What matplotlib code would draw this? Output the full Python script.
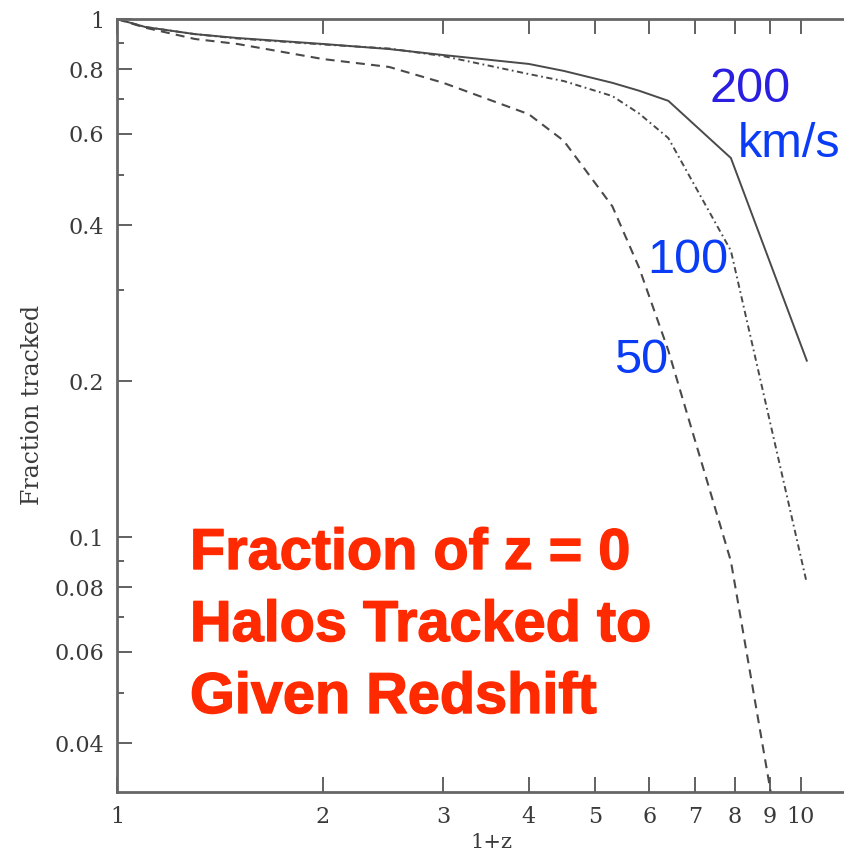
import matplotlib
matplotlib.use("Agg")
import matplotlib.pyplot as plt
import matplotlib.patheffects as pe
from matplotlib.ticker import FixedLocator, FixedFormatter, NullFormatter

# 1+z sample points and tracked fractions for three circular velocities
onePlusZ = [1, 1.1, 1.3, 1.5, 2, 2.5, 3, 4, 4.5, 5.3, 5.8, 6.4, 7.9, 10.2]
frac200 = [1.0, 0.965, 0.935, 0.919, 0.895, 0.875, 0.852, 0.819, 0.794, 0.753, 0.727, 0.695, 0.539, 0.219]
frac100 = [1.0, 0.965, 0.935, 0.917, 0.893, 0.877, 0.848, 0.783, 0.759, 0.710, 0.657, 0.589, 0.357, 0.0815]
frac50 = [1.0, 0.962, 0.915, 0.895, 0.837, 0.808, 0.753, 0.655, 0.582, 0.435, 0.331, 0.229, 0.0898, 0.0127]

xTicks = [1, 2, 3, 4, 5, 6, 7, 8, 9, 10]
xTickLabels = ["1", "2", "3", "4", "5", "6", "7", "8", "9", "10"]
yTicks = [1, 0.8, 0.6, 0.4, 0.2, 0.1, 0.08, 0.06, 0.04]
yTickLabels = ["1", "0.8", "0.6", "0.4", "0.2", "0.1", "0.08", "0.06", "0.04"]
yMinor = [0.9, 0.7, 0.5, 0.3, 0.09, 0.07, 0.05]

titleLines = ["Fraction of z = 0", "Halos Tracked to", "Given Redshift"]

W, H = 845, 851
fig = plt.figure(figsize=(W / 100, H / 100), dpi=100)
ax = fig.add_axes([117 / W, 1 - 792 / H, (W - 117) / W, (792 - 19) / H])

lineCol = "#4a4a4a"
ax.plot(onePlusZ, frac200, color=lineCol, lw=1.4, solid_joinstyle="miter")
ax.plot(onePlusZ, frac100, color=lineCol, lw=1.4, linestyle=(0, (3.2, 1.8, 0.9, 1.8)))
ax.plot(onePlusZ, frac50, color=lineCol, lw=1.5, linestyle=(0, (4.3, 3.0)))

ax.set_xscale("log")
ax.set_yscale("log")
ax.set_xlim(1, 11.6)
ax.set_ylim(0.0322, 1.0)

ax.xaxis.set_major_locator(FixedLocator(xTicks))
ax.xaxis.set_major_formatter(FixedFormatter(xTickLabels))
ax.xaxis.set_minor_locator(FixedLocator([]))
ax.yaxis.set_major_locator(FixedLocator(yTicks))
ax.yaxis.set_major_formatter(FixedFormatter(yTickLabels))
ax.yaxis.set_minor_locator(FixedLocator(yMinor))
ax.yaxis.set_minor_formatter(NullFormatter())

tickCol = "#555555"
ax.tick_params(axis="both", which="major", direction="in", length=11, width=1.3,
               color=tickCol, labelcolor="#3a3a3a", labelsize=16, pad=9)
ax.tick_params(axis="x", which="major", top=True, pad=10)
ax.tick_params(axis="y", which="minor", direction="in", length=5, width=1.3, color=tickCol)
for lab in ax.get_xticklabels() + ax.get_yticklabels():
    lab.set_family("DejaVu Serif")

for side in ["left", "top", "bottom"]:
    ax.spines[side].set_color("#666666")
    ax.spines[side].set_linewidth(2.0)
ax.spines["right"].set_visible(False)

fig.text(491 / W, 1 - 843 / H, "1+z", family="DejaVu Serif", fontsize=15,
         color="#3a3a3a", ha="center", va="center")
fig.text(33 / W, 1 - 405 / H, "Fraction tracked", family="DejaVu Serif", fontsize=17,
         color="#3a3a3a", ha="center", va="center", rotation=90)

# blue curve labels
blue1 = "#2a1fe0"
blue2 = "#0a3cf5"
fig.text(710 / W, 1 - 102 / H, "200", family="Liberation Sans", fontsize=35, color=blue1, va="baseline")
fig.text(738 / W, 1 - 157 / H, "km/s", family="Liberation Sans", fontsize=35, color=blue2, va="baseline")
fig.text(647 / W, 1 - 273 / H, "100", family="Liberation Sans", fontsize=35, color=blue2, va="baseline")
fig.text(614 / W, 1 - 373 / H, "50", family="Liberation Sans", fontsize=35, color=blue2, va="baseline")

# red annotation
red = "#ff2a00"
baselines = [569, 641, 713]
for txt, b in zip(titleLines, baselines):
    fig.text(190 / W, 1 - b / H, txt, family="Liberation Sans", weight="bold",
             fontsize=41.5, color=red, va="baseline",
             path_effects=[pe.withStroke(linewidth=1.0, foreground=red)])

fig.savefig("out.png", dpi=100)
